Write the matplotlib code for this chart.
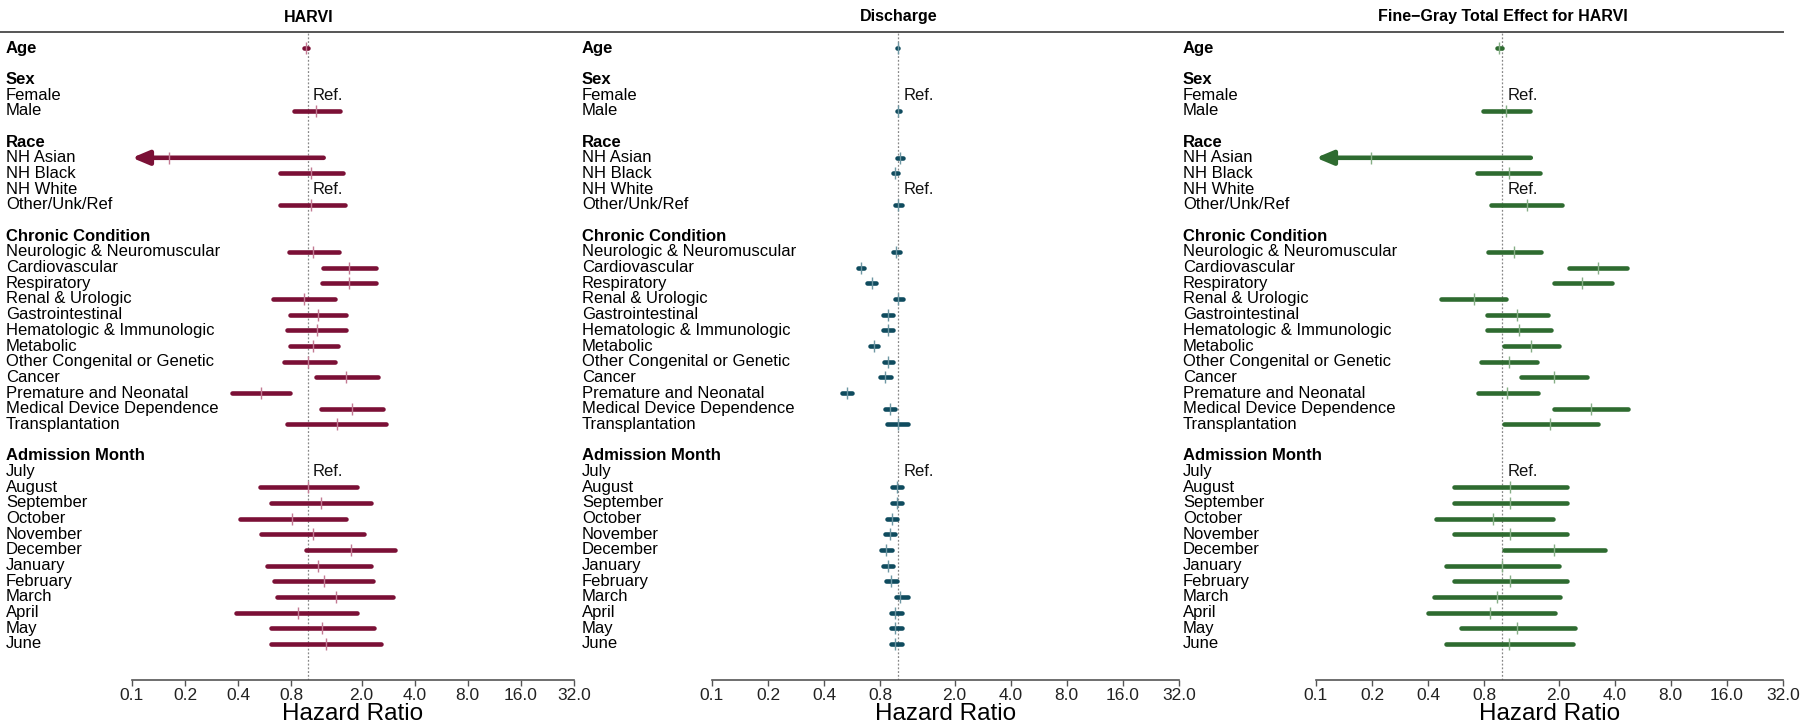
import matplotlib
matplotlib.use("Agg")
import matplotlib.pyplot as plt
from matplotlib.lines import Line2D
from matplotlib.transforms import blended_transform_factory
from matplotlib.ticker import FixedLocator, FixedFormatter, NullLocator

plt.rcParams['font.family'] = ['Liberation Sans', 'DejaVu Sans']

# ---------------- data ----------------
row_labels = ["Age", "", "Sex", "Female", "Male", "", "Race", "NH Asian", "NH Black",
              "NH White", "Other/Unk/Ref", "", "Chronic Condition",
              "Neurologic & Neuromuscular", "Cardiovascular", "Respiratory",
              "Renal & Urologic", "Gastrointestinal", "Hematologic & Immunologic",
              "Metabolic", "Other Congenital or Genetic", "Cancer",
              "Premature and Neonatal", "Medical Device Dependence", "Transplantation",
              "", "Admission Month", "July", "August", "September", "October",
              "November", "December", "January", "February", "March", "April",
              "May", "June"]
header_labels = ["Age", "Sex", "Race", "Chronic Condition", "Admission Month"]
ref_labels = ["Female", "NH White", "July"]

terms = ["Age", "Male", "NH Asian", "NH Black", "Other/Unk/Ref",
         "Neurologic & Neuromuscular", "Cardiovascular", "Respiratory",
         "Renal & Urologic", "Gastrointestinal", "Hematologic & Immunologic",
         "Metabolic", "Other Congenital or Genetic", "Cancer",
         "Premature and Neonatal", "Medical Device Dependence", "Transplantation",
         "August", "September", "October", "November", "December", "January",
         "February", "March", "April", "May", "June"]

harvi_est = [0.965, 1.10, 0.163, 1.03, 1.04,
             1.06, 1.70, 1.70, 0.94, 1.14, 1.12, 1.06, 1.00, 1.63, 0.54, 1.76, 1.45,
             0.995, 1.18, 0.81, 1.06, 1.74, 1.14, 1.22, 1.43, 0.87, 1.19, 1.25]
harvi_lo = [0.945, 0.83, 0.03, 0.69, 0.69,
            0.78, 1.21, 1.20, 0.63, 0.79, 0.76, 0.79, 0.73, 1.10, 0.37, 1.18, 0.76,
            0.53, 0.61, 0.41, 0.54, 0.97, 0.58, 0.64, 0.66, 0.39, 0.61, 0.61]
harvi_hi = [0.99, 1.50, 1.22, 1.57, 1.62,
            1.49, 2.42, 2.42, 1.41, 1.64, 1.64, 1.48, 1.41, 2.47, 0.79, 2.66, 2.76,
            1.89, 2.27, 1.63, 2.07, 3.10, 2.27, 2.32, 3.02, 1.89, 2.34, 2.57]

disch_est = [0.99, 1.00, 1.02, 0.96, 0.99,
             0.97, 0.633, 0.72, 1.00, 0.88, 0.88, 0.74, 0.88, 0.85, 0.53, 0.90, 0.99,
             0.98, 0.98, 0.92, 0.90, 0.86, 0.88, 0.91, 1.02, 0.96, 0.96, 0.96]
disch_lo = [0.985, 0.98, 0.98, 0.93, 0.96,
            0.93, 0.61, 0.68, 0.96, 0.83, 0.83, 0.70, 0.84, 0.80, 0.50, 0.85, 0.87,
            0.92, 0.92, 0.87, 0.85, 0.81, 0.83, 0.86, 0.97, 0.91, 0.91, 0.91]
disch_hi = [0.995, 1.02, 1.06, 1.00, 1.05,
            1.02, 0.655, 0.76, 1.06, 0.93, 0.93, 0.78, 0.94, 0.91, 0.565, 0.96, 1.13,
            1.05, 1.05, 0.98, 0.96, 0.92, 0.94, 0.98, 1.12, 1.04, 1.04, 1.05]

fg_est = [0.96, 1.05, 0.197, 1.08, 1.35,
          1.16, 3.26, 2.66, 0.70, 1.20, 1.23, 1.43, 1.09, 1.90, 1.06, 2.97, 1.81,
          1.10, 1.10, 0.89, 1.10, 1.90, 0.99, 1.10, 0.93, 0.86, 1.20, 1.08]
fg_lo = [0.94, 0.79, 0.03, 0.73, 0.87,
         0.84, 2.27, 1.88, 0.47, 0.83, 0.83, 1.02, 0.77, 1.26, 0.74, 1.88, 1.02,
         0.55, 0.55, 0.44, 0.55, 1.02, 0.50, 0.55, 0.43, 0.40, 0.60, 0.50]
fg_hi = [0.99, 1.41, 1.42, 1.60, 2.09,
         1.61, 4.65, 3.88, 1.05, 1.75, 1.83, 2.00, 1.53, 2.86, 1.55, 4.73, 3.25,
         2.23, 2.23, 1.86, 2.23, 3.55, 2.00, 2.23, 2.04, 1.91, 2.46, 2.39]

panel_titles = ["HARVI", "Discharge", "Fine\u2212Gray Total Effect for HARVI"]
panel_colors = ["#7B1036", "#0F4B5E", "#2E6B30"]
tick_colors = ["#C27A93", "#6E97A3", "#86AE86"]
x_ticks = [0.1, 0.2, 0.4, 0.8, 2.0, 4.0, 8.0, 16.0, 32.0]
x_tick_labels = ["%.1f" % t for t in x_ticks]

panels = [(harvi_est, harvi_lo, harvi_hi), (disch_est, disch_lo, disch_hi),
          (fg_est, fg_lo, fg_hi)]

# ---------------- layout (pixels) ----------------
W, H = 1800, 724
fig = plt.figure(figsize=(W / 100, H / 100), dpi=100)
ax_px = [(132, 574), (712, 1179), (1316, 1783)]
label_px = [6, 582, 1183]
top_px, bot_px = 33, 680
row_top_px, row_bot_px = 48, 644
n = len(row_labels)
step = (row_bot_px - row_top_px) / (n - 1)
ylim_top = -(row_top_px - top_px) / step
ylim_bot = (n - 1) + (bot_px - row_bot_px) / step

fig.add_artist(Line2D([0, 1783 / W], [1 - 32 / H, 1 - 32 / H],
                      transform=fig.transFigure, color="#555555", lw=1.4))

for p, (est, lo, hi) in enumerate(panels):
    x0, x1 = ax_px[p]
    ax = fig.add_axes([x0 / W, 1 - bot_px / H, (x1 - x0) / W, (bot_px - top_px) / H])
    ax.set_xscale("log")
    ax.set_xlim(0.1, 32)
    ax.set_ylim(ylim_bot, ylim_top)
    col = panel_colors[p]

    ax.axvline(1.0, color="#888888", lw=0.9, ls=(0, (1.5, 1.5)), zorder=1)

    for i, t in enumerate(terms):
        y = row_labels.index(t)
        if lo[i] < 0.1:
            ax.annotate("", xy=(0.1, y), xytext=(hi[i], y),
                        arrowprops=dict(arrowstyle="-|>,head_length=1.0,head_width=0.42",
                                        lw=3.3, color=col, shrinkA=0, shrinkB=0),
                        annotation_clip=False, zorder=3)
        else:
            ax.plot([lo[i], hi[i]], [y, y], color=col, lw=3.3,
                    solid_capstyle="round", zorder=3)
        ax.plot([est[i]], [y], marker="|", ms=8, mew=1.0, color=tick_colors[p],
                zorder=4)

    for lab in ref_labels:
        ax.text(1.06, row_labels.index(lab), "Ref.", ha="left", va="center",
                fontsize=12, color="#111111")

    tr = blended_transform_factory(fig.transFigure, ax.transData)
    for r, lab in enumerate(row_labels):
        if not lab:
            continue
        ax.text(label_px[p] / W, r, lab, transform=tr, ha="left", va="center",
                fontsize=12, color="#000000",
                fontweight="bold" if lab in header_labels else "normal")

    trt = blended_transform_factory(ax.transData, fig.transFigure)
    ax.text(1.0, 1 - 17 / H, panel_titles[p], transform=trt, ha="center",
            va="center", fontsize=11.5, fontweight="bold")

    for s in ["left", "right", "top"]:
        ax.spines[s].set_visible(False)
    ax.spines["bottom"].set_color("#555555")
    ax.spines["bottom"].set_linewidth(1.2)
    ax.yaxis.set_major_locator(NullLocator())
    ax.xaxis.set_major_locator(FixedLocator(x_ticks))
    ax.xaxis.set_major_formatter(FixedFormatter(x_tick_labels))
    ax.xaxis.set_minor_locator(NullLocator())
    ax.tick_params(axis="x", length=4, width=1.0, color="#555555", pad=2,
                   labelsize=12.5, labelcolor="#222222")
    ax.set_xlabel("Hazard Ratio", fontsize=17.5)
    ax.xaxis.set_label_coords(0.5, -(714 - bot_px) / (bot_px - top_px))
    ax.xaxis.label.set_verticalalignment("center")
    ax.patch.set_visible(False)

fig.savefig("out.png", dpi=100)
